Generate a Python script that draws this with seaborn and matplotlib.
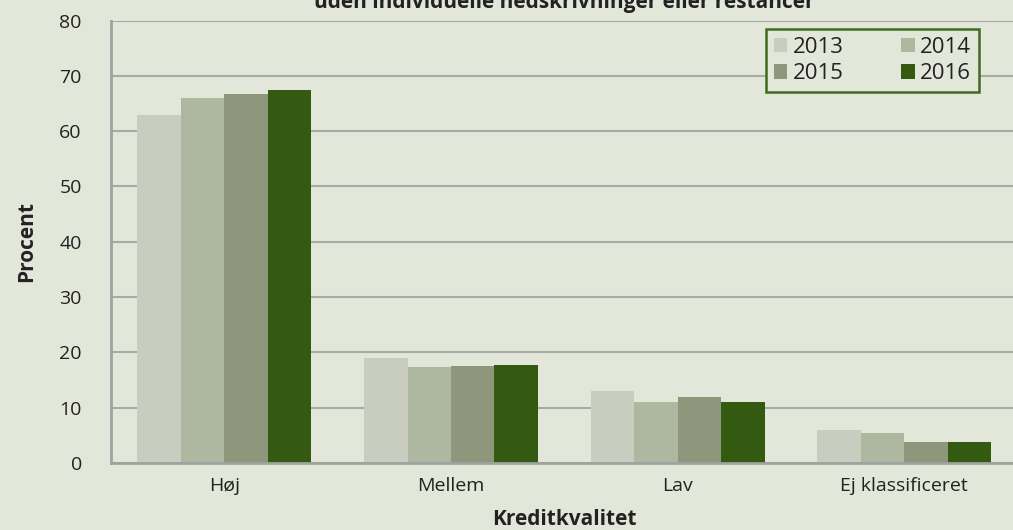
import pandas as pd
import seaborn as sns
import matplotlib.pyplot as plt

categories = ['Høj', 'Mellem', 'Lav', 'Ej klassificeret']
years = ['2013', '2014', '2015', '2016']
v2013 = [63.0, 19.0, 13.0, 6.0]
v2014 = [66.0, 17.4, 11.1, 5.5]
v2015 = [66.7, 17.5, 12.0, 3.8]
v2016 = [67.4, 17.7, 11.1, 3.8]

rows = []
for year, vals in zip(years, [v2013, v2014, v2015, v2016]):
    for cat, v in zip(categories, vals):
        rows.append({'Kreditkvalitet': cat, 'År': year, 'Procent': v})
df = pd.DataFrame(rows)

bg = '#E2E7DA'
colors = ['#C9CDBF', '#AEB8A0', '#8E977B', '#345A12']

sns.set_style('white')
plt.rcParams['font.family'] = ['Open Sans', 'DejaVu Sans']

fig = plt.figure(figsize=(10.13, 5.3), dpi=100, facecolor=bg)
ax = fig.add_axes([0.1096, 0.1264, 0.8949, 0.8349])
ax.set_facecolor(bg)

sns.barplot(data=df, x='Kreditkvalitet', y='Procent', hue='År', palette=colors,
            width=0.767, gap=0, saturation=1, linewidth=0, ax=ax, zorder=3)

ax.set_ylim(0, 80)
ax.set_xlim(-0.5, 3.5)
ax.set_yticks(range(0, 81, 10))
ax.grid(axis='y', color='#A7AAA6', linewidth=1.5, zorder=0)
ax.set_axisbelow(True)
for s in ['top', 'right']:
    ax.spines[s].set_visible(False)
for s in ['left', 'bottom']:
    ax.spines[s].set_color('#A0A2A0')
    ax.spines[s].set_linewidth(2)
    ax.spines[s].set_zorder(4)

ax.tick_params(axis='y', length=7, width=1.5, color='#A0A2A0', labelsize=14,
               labelcolor='#222222', pad=14)
ax.tick_params(axis='x', length=0, labelsize=14, labelcolor='#222222', pad=10)
ax.set_xticks([-0.5, 0.5, 1.5, 2.5], minor=True)
ax.tick_params(axis='x', which='minor', length=6, width=1.2, color='#A0A2A0')

ax.set_xlabel('Kreditkvalitet', fontsize=15, fontweight='bold', color='#222222', labelpad=10)
ax.set_ylabel('Procent', fontsize=15, fontweight='bold', color='#222222', labelpad=16)

# row-wise legend order: 2013 2014 / 2015 2016
handles, labels = ax.get_legend_handles_labels()
order = [0, 2, 1, 3]
leg = ax.legend([handles[i] for i in order], [labels[i] for i in order], ncol=2,
                loc='upper right', bbox_to_anchor=(979 / 1013, 1 - 29 / 530),
                bbox_transform=fig.transFigure, borderaxespad=0, fontsize=16,
                frameon=True, fancybox=False, handlelength=0.6, handleheight=0.6,
                handletextpad=0.25, columnspacing=2.6, labelspacing=0.25,
                borderpad=0.35)
leg.get_frame().set_edgecolor('#3F6B1F')
leg.get_frame().set_linewidth(1.8)
leg.get_frame().set_facecolor(bg)
leg.get_frame().set_alpha(1)
for t in leg.get_texts():
    t.set_color('#222222')

fig.text(564 / 1013, 1 - 8 / 530, 'uden individuelle nedskrivninger eller restancer',
         ha='center', va='baseline', fontsize=15, fontweight='bold', color='#222222')

fig.savefig('out.png', dpi=100, facecolor=bg)
